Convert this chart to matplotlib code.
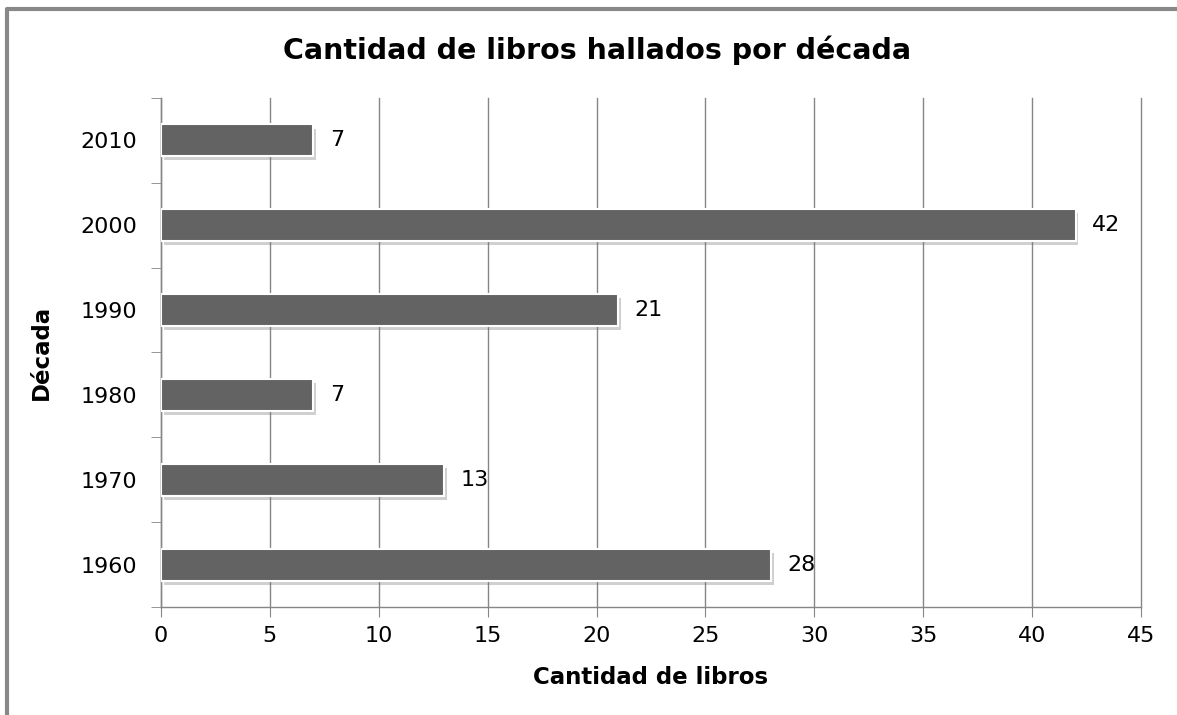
import matplotlib.pyplot as plt
import matplotlib.patheffects as pe
from matplotlib.lines import Line2D

# Data
decadas = ["1960", "1970", "1980", "1990", "2000", "2010"]
cantidades = [28, 13, 7, 21, 42, 7]
x_ticks = [0, 5, 10, 15, 20, 25, 30, 35, 40, 45]

grid_color = "#868686"
bar_color = "#636363"

fig = plt.figure(figsize=(11.77, 7.15), dpi=100)
ax = fig.add_axes([0.1368, 0.151, 0.9694 - 0.1368, 0.863 - 0.151])

pos = list(range(len(decadas)))
bars = ax.barh(pos, cantidades, height=0.375, color=bar_color,
               edgecolor="white", linewidth=1.5, zorder=3)
for b in bars:
    b.set_path_effects([pe.SimplePatchShadow(offset=(2, -3), shadow_rgbFace="#777777", alpha=0.35),
                        pe.Normal()])

for p, v in zip(pos, cantidades):
    ax.text(v + 0.75, p, str(v), va="center", ha="left", fontsize=16, color="black")

ax.set_xlim(0, 45)
ax.set_ylim(-0.5, len(decadas) - 0.5)
ax.set_xticks(x_ticks)
ax.set_xticklabels([str(t) for t in x_ticks], fontsize=16)
ax.set_yticks(pos)
ax.set_yticklabels(decadas, fontsize=16)
ax.tick_params(axis="y", length=0, pad=17)
ax.tick_params(axis="x", length=7, color=grid_color, pad=7)

# category boundary ticks on the y axis
ax.set_yticks([p - 0.5 for p in pos] + [len(decadas) - 0.5], minor=True)
ax.tick_params(axis="y", which="minor", length=7, color=grid_color)

ax.grid(axis="x", color=grid_color, linewidth=1, zorder=0)
for gl in ax.get_xgridlines():
    gl.set_clip_on(False)
for s in ["top", "right"]:
    ax.spines[s].set_visible(False)
for s in ["left", "bottom"]:
    ax.spines[s].set_color(grid_color)
    ax.spines[s].set_linewidth(1)

ax.set_xlabel("Cantidad de libros", fontsize=16.5, fontweight="bold", labelpad=14)
ax.set_ylabel("Década", fontsize=16.5, fontweight="bold", labelpad=20)
fig.text(0.507, 0.93, "Cantidad de libros hallados por década", ha="center", va="center",
         fontsize=20.5, fontweight="bold")

# outer chart frame (only top and left visible)
fig.add_artist(Line2D([7 / 1177, 7 / 1177, 1.0], [0.0, 1 - 9 / 715, 1 - 9 / 715],
                      color="#888888", linewidth=3, transform=fig.transFigure))

fig.savefig("out.png", dpi=100, facecolor="white")
